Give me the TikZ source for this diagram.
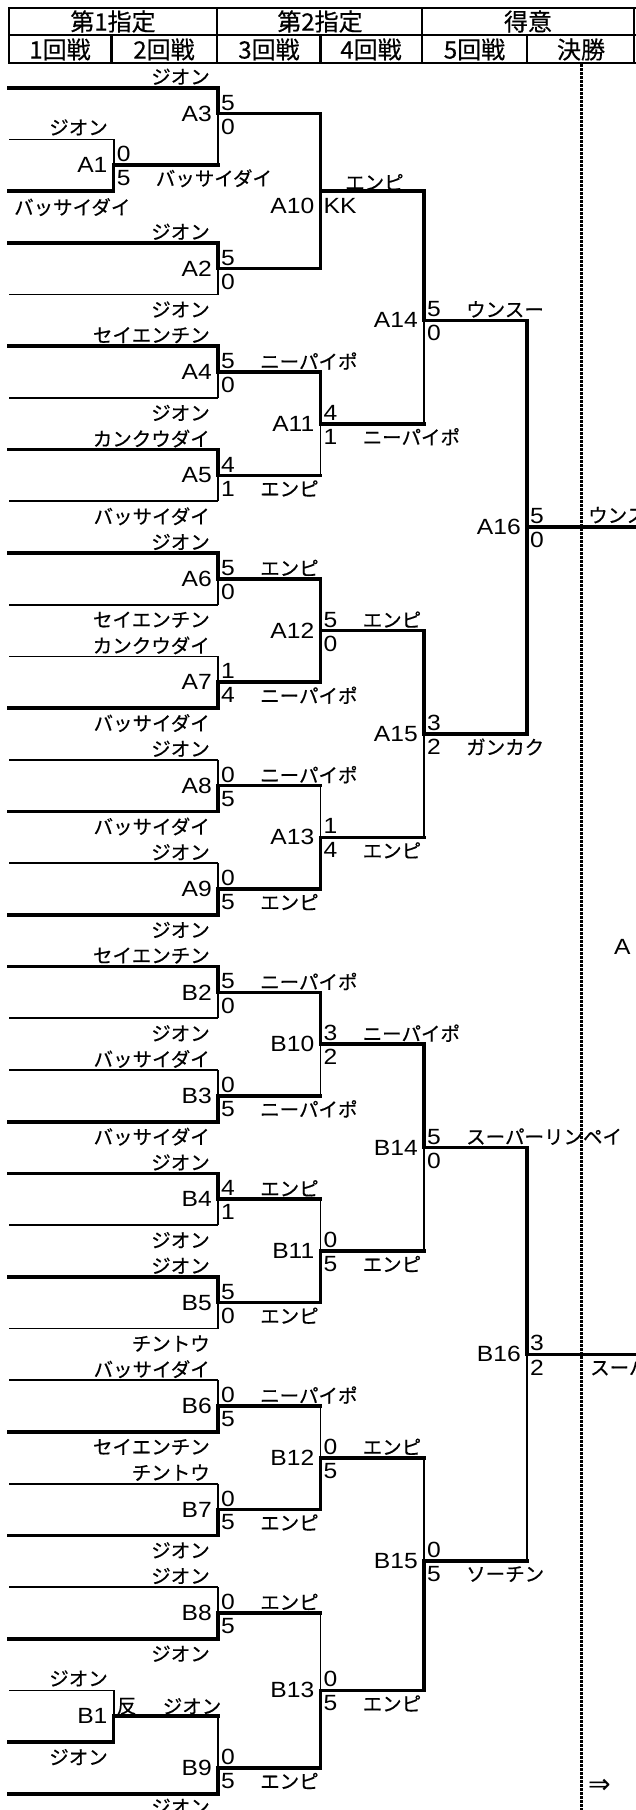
\documentclass[tikz,border=0pt]{standalone}
\usepackage{fontspec}
\setmainfont{Liberation Sans}
\newfontfamily\latf[FakeStretch=1.12]{Liberation Sans}
\newfontfamily\jpf[FakeBold=0.4]{Noto Sans CJK JP}
\newfontfamily\djvf{DejaVu Sans}
\def\rowy#1{(87.7+25.85*(#1))}
\newcommand\bout[5]{%
  \coordinate (#1t) at (#2,{\rowy{#3}});
  \coordinate (#1) at (#2,{\rowy{#4}});
  \coordinate (#1b) at (#2,{\rowy{#5}});}
\newcommand\topwin[1]{\draw[win] (#1t) -- (#1); \draw[lose] (#1) -- (#1b);}
\newcommand\botwin[1]{\draw[lose] (#1t) -- (#1); \draw[win] (#1) -- (#1b);}
\newcommand\bothwin[1]{\draw[win] (#1t) -- (#1b);}
\newcommand\ent[3]{\coordinate (L#2) at (9,{\rowy{#2}}); \draw[#1] (L#2) -- (L#2 -| #3);}
\newcommand\outl[2]{\draw[win] (#1) -- (#1 -| #2);}
\newcommand\uplab[2]{\node[nm,anchor=east] (u#1) at (210,{\rowy{#1}-11}) {#2};}
\newcommand\dnlab[2]{\node[nm,anchor=east] (d#1) at (210,{\rowy{#1}+15}) {#2};}
\newcommand\mlab[1]{\node[lt,anchor=east] (#1lab) at ([xshift=-6pt]#1) {#1};}
\newcommand\scores[3]{\node[lt,anchor=west] (#1s1) at ([xshift=3pt,yshift=11pt]#1) {#2};
  \node[lt,anchor=west] (#1s2) at ([xshift=3pt,yshift=-13pt]#1) {#3};}
\newcommand\nmup[2]{\node[nm,anchor=west] (#1n) at ([xshift=42pt,yshift=11pt]#1) {#2};}
\newcommand\nmdn[2]{\node[nm,anchor=west] (#1n) at ([xshift=42pt,yshift=-13pt]#1) {#2};}
\begin{document}
\begin{tikzpicture}[x=1pt,y=-1pt,
  win/.style={line width=3.6pt,line cap=rect},
  lose/.style={line width=1.8pt},
  hdr/.style={line width=2.2pt},
  nm/.style={inner sep=0pt,font=\jpf\fontsize{19.5}{22}\selectfont},
  lt/.style={inner sep=0pt,font=\latf\fontsize{22}{24}\selectfont},
  hd/.style={inner sep=0pt,font=\jpf\fontsize{24}{26}\selectfont}]
\useasboundingbox (0,0) rectangle (636,1810);
\clip (0,0) rectangle (636,1810);
\fill[white] (0,0) rectangle (636,1810);

% header
\draw[hdr] (9,8) -- (640,8) (9,35) -- (640,35) (9,63) -- (640,63) (9,7) -- (9,64);
\foreach \xx in {217,422,634} {\draw[hdr] (\xx,8) -- (\xx,35);}
\foreach \xx in {111.5,217,320.5,422,527,634} {\draw[hdr] (\xx,35) -- (\xx,63);}
\node[hd] (h1) at (113,21.5) {第1指定};
\node[hd] (h2) at (320,21.5) {第2指定};
\node[hd] (h3) at (528,21.5) {得意};
\node[hd] (r1) at (60,49.5) {1回戦};
\node[hd] (r2) at (164,49.5) {2回戦};
\node[hd] (r3) at (269,49.5) {3回戦};
\node[hd] (r4) at (371,49.5) {4回戦};
\node[hd] (r5) at (474.5,49.5) {5回戦};
\node[hd] (r6) at (581,49.5) {決勝};

% dotted divider
\coordinate (dtop) at (581.5,64);
\coordinate (dbot) at (581.5,1810);
\draw[line width=2.2pt,dash pattern=on 2.6pt off 1.4pt] (dtop) -- (dbot);

% match points
\bout{A1}{113.6}{2}{3}{4}
\bout{B1}{113.6}{62}{63}{64}
\bout{A3}{218}{0}{1}{3}
\bout{A2}{218}{6}{7}{8}
\bout{A4}{218}{10}{11}{12}
\bout{A5}{218}{14}{15}{16}
\bout{A6}{218}{18}{19}{20}
\bout{A7}{218}{22}{23}{24}
\bout{A8}{218}{26}{27}{28}
\bout{A9}{218}{30}{31}{32}
\bout{B2}{218}{34}{35}{36}
\bout{B3}{218}{38}{39}{40}
\bout{B4}{218}{42}{43}{44}
\bout{B5}{218}{46}{47}{48}
\bout{B6}{218}{50}{51}{52}
\bout{B7}{218}{54}{55}{56}
\bout{B8}{218}{58}{59}{60}
\bout{B9}{218}{63}{65}{66}
\bout{A10}{320.5}{1}{4}{7}
\bout{A11}{320.5}{11}{13}{15}
\bout{A12}{320.5}{19}{21}{23}
\bout{A13}{320.5}{27}{29}{31}
\bout{B10}{320.5}{35}{37}{39}
\bout{B11}{320.5}{43}{45}{47}
\bout{B12}{320.5}{51}{53}{55}
\bout{B13}{320.5}{59}{62}{65}
\bout{A14}{424}{4}{9}{13}
\bout{A15}{424}{21}{25}{29}
\bout{B14}{424}{37}{41}{45}
\bout{B15}{424}{53}{57}{62}
\bout{A16}{527}{9}{17}{25}
\bout{B16}{527}{41}{49}{57}
\coordinate (RE) at (640,0);

% entrants
\ent{win}{0}{A3} \ent{lose}{2}{A1} \ent{win}{4}{A1} \ent{win}{6}{A2} \ent{lose}{8}{A2}
\ent{win}{10}{A4} \ent{lose}{12}{A4} \ent{win}{14}{A5} \ent{lose}{16}{A5}
\ent{win}{18}{A6} \ent{lose}{20}{A6} \ent{lose}{22}{A7} \ent{win}{24}{A7}
\ent{lose}{26}{A8} \ent{win}{28}{A8} \ent{lose}{30}{A9} \ent{win}{32}{A9}
\ent{win}{34}{B2} \ent{lose}{36}{B2} \ent{lose}{38}{B3} \ent{win}{40}{B3}
\ent{win}{42}{B4} \ent{lose}{44}{B4} \ent{win}{46}{B5} \ent{lose}{48}{B5}
\ent{lose}{50}{B6} \ent{win}{52}{B6} \ent{lose}{54}{B7} \ent{win}{56}{B7}
\ent{lose}{58}{B8} \ent{win}{60}{B8} \ent{lose}{62}{B1} \ent{win}{64}{B1} \ent{win}{66}{B9}

% verticals
\topwin{A3} \topwin{A2} \topwin{A4} \topwin{A5} \topwin{A6} \topwin{B2} \topwin{B4} \topwin{B5}
\topwin{A11} \topwin{B10} \topwin{A14} \topwin{A15} \topwin{B14} \topwin{B16}
\botwin{A1} \botwin{B1} \botwin{A7} \botwin{A8} \botwin{A9} \botwin{B3} \botwin{B6} \botwin{B7}
\botwin{B8} \botwin{B9} \botwin{A13} \botwin{B11} \botwin{B12} \botwin{B13} \botwin{B15}
\bothwin{A10} \bothwin{A12} \bothwin{A16}

% outputs
\outl{A1}{A3} \outl{B1}{B9}
\outl{A3}{A10} \outl{A2}{A10} \outl{A4}{A11} \outl{A5}{A11} \outl{A6}{A12} \outl{A7}{A12}
\outl{A8}{A13} \outl{A9}{A13} \outl{B2}{B10} \outl{B3}{B10} \outl{B4}{B11} \outl{B5}{B11}
\outl{B6}{B12} \outl{B7}{B12} \outl{B8}{B13} \outl{B9}{B13}
\outl{A10}{A14} \outl{A11}{A14} \outl{A12}{A15} \outl{A13}{A15}
\outl{B10}{B14} \outl{B11}{B14} \outl{B12}{B15} \outl{B13}{B15}
\outl{A14}{A16} \outl{A15}{A16} \outl{B14}{B16} \outl{B15}{B16}
\outl{A16}{RE} \outl{B16}{RE}

% entrant names
\uplab{0}{ジオン}
\node[nm,anchor=east] (u2) at (108,{\rowy{2}-12}) {ジオン};
\node[nm,anchor=west] (d4) at (14,{\rowy{4}+16}) {バッサイダイ};
\uplab{6}{ジオン} \dnlab{8}{ジオン}
\uplab{10}{セイエンチン} \dnlab{12}{ジオン}
\uplab{14}{カンクウダイ} \dnlab{16}{バッサイダイ}
\uplab{18}{ジオン} \dnlab{20}{セイエンチン}
\uplab{22}{カンクウダイ} \dnlab{24}{バッサイダイ}
\uplab{26}{ジオン} \dnlab{28}{バッサイダイ}
\uplab{30}{ジオン} \dnlab{32}{ジオン}
\uplab{34}{セイエンチン} \dnlab{36}{ジオン}
\uplab{38}{バッサイダイ} \dnlab{40}{バッサイダイ}
\uplab{42}{ジオン} \dnlab{44}{ジオン}
\uplab{46}{ジオン} \dnlab{48}{チントウ}
\uplab{50}{バッサイダイ} \dnlab{52}{セイエンチン}
\uplab{54}{チントウ} \dnlab{56}{ジオン}
\uplab{58}{ジオン} \dnlab{60}{ジオン}
\node[nm,anchor=east] (u62) at (108,{\rowy{62}-12}) {ジオン};
\node[nm,anchor=east] (d64) at (108,{\rowy{64}+15}) {ジオン};
\node[nm,anchor=east] (d66) at (210,{\rowy{66}+13}) {ジオン};

% match labels, scores, names
\mlab{A1} \scores{A1}{0}{5} \nmdn{A1}{バッサイダイ}
\mlab{A3} \scores{A3}{5}{0}
\mlab{A2} \scores{A2}{5}{0}
\mlab{A4} \scores{A4}{5}{0} \nmup{A4}{ニーパイポ}
\mlab{A5} \scores{A5}{4}{1} \nmdn{A5}{エンピ}
\mlab{A6} \scores{A6}{5}{0} \nmup{A6}{エンピ}
\mlab{A7} \scores{A7}{1}{4} \nmdn{A7}{ニーパイポ}
\mlab{A8} \scores{A8}{0}{5} \nmup{A8}{ニーパイポ}
\mlab{A9} \scores{A9}{0}{5} \nmdn{A9}{エンピ}
\node[lt,anchor=east] (A10lab) at ([xshift=-6pt,yshift=-15pt]A10) {A10};
\node[lt,anchor=west] (A10s2) at ([xshift=3pt,yshift=-15pt]A10) {KK};
\node[nm,anchor=west] (A10n) at (345,{\rowy{4}-9}) {エンピ};
\mlab{A11} \scores{A11}{4}{1} \nmdn{A11}{ニーパイポ}
\mlab{A12} \scores{A12}{5}{0} \nmup{A12}{エンピ}
\mlab{A13} \scores{A13}{1}{4} \nmdn{A13}{エンピ}
\mlab{A14} \scores{A14}{5}{0} \nmup{A14}{ウンスー}
\mlab{A15} \scores{A15}{3}{2} \nmdn{A15}{ガンカク}
\mlab{A16} \scores{A16}{5}{0}
\node[nm,anchor=west] (A16n) at (588,{\rowy{17}-12}) {ウンスー};
\mlab{B2} \scores{B2}{5}{0} \nmup{B2}{ニーパイポ}
\mlab{B3} \scores{B3}{0}{5} \nmdn{B3}{ニーパイポ}
\mlab{B4} \scores{B4}{4}{1} \nmup{B4}{エンピ}
\mlab{B5} \scores{B5}{5}{0} \nmdn{B5}{エンピ}
\mlab{B6} \scores{B6}{0}{5} \nmup{B6}{ニーパイポ}
\mlab{B7} \scores{B7}{0}{5} \nmdn{B7}{エンピ}
\mlab{B8} \scores{B8}{0}{5} \nmup{B8}{エンピ}
\mlab{B1}
\node[nm,anchor=west] (B1s1) at ([xshift=3pt,yshift=10pt]B1) {反};
\node[nm,anchor=west] (B1n) at ([xshift=49pt,yshift=10pt]B1) {ジオン};
\mlab{B9} \scores{B9}{0}{5} \nmdn{B9}{エンピ}
\mlab{B10} \scores{B10}{3}{2} \nmup{B10}{ニーパイポ}
\mlab{B11} \scores{B11}{0}{5} \nmdn{B11}{エンピ}
\mlab{B12} \scores{B12}{0}{5} \nmup{B12}{エンピ}
\mlab{B13} \scores{B13}{0}{5} \nmdn{B13}{エンピ}
\mlab{B14} \scores{B14}{5}{0} \nmup{B14}{スーパーリンペイ}
\mlab{B15} \scores{B15}{0}{5} \nmdn{B15}{ソーチン}
\mlab{B16} \scores{B16}{3}{2}
\node[nm,anchor=west] (B16n) at (590,{\rowy{49}+13}) {スーパーリンペイ};

% right-edge fragments
\node[lt,anchor=west] (ablk) at (614,947) {A};
\node[inner sep=0pt,anchor=west,font=\djvf\fontsize{27}{30}\selectfont] (arr) at (588,1786) {⇒};
\end{tikzpicture}
\end{document}
